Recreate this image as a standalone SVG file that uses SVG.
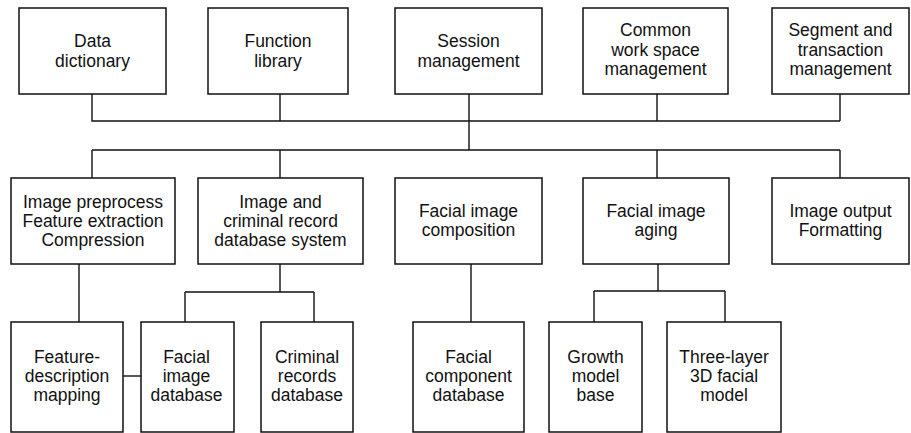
<svg xmlns="http://www.w3.org/2000/svg" width="911" height="433" viewBox="0 0 911 433">
<style>
.box{fill:#fff;stroke:#111;stroke-width:1.5}
.t{font-family:"Liberation Sans",Arial,sans-serif;font-size:17.5px;fill:#111;text-anchor:middle}
.c{fill:none;stroke:#111;stroke-width:1.4}
</style>
<rect width="911" height="433" fill="#fff"/>
<g id="connectors" class="c">
<path d="M92 94V121H840M280 94V121M469 94V150M657 94V121M840 94V121"/>
<path d="M92 150H840M92 150V178M280 150V178M657 150V178M840 150V178"/>
<path d="M79 264V322M280 264V292M185 292H314M185 292V322M314 292V322"/>
<path d="M471 264V322M658 264V291M594 291H725M594 291V322M725 291V322"/>
<path d="M123 376H141"/>
</g>
<g id="data-dictionary"><rect class="box" x="19" y="8" width="147" height="86"/><text class="t" x="92.5" y="47">Data</text><text class="t" x="92.5" y="67">dictionary</text></g>
<g id="function-library"><rect class="box" x="208" y="8" width="140" height="86"/><text class="t" x="278" y="47">Function</text><text class="t" x="278" y="67">library</text></g>
<g id="session-management"><rect class="box" x="395" y="8" width="147" height="86"/><text class="t" x="468.5" y="47">Session</text><text class="t" x="468.5" y="67">management</text></g>
<g id="common-work-space"><rect class="box" x="583" y="8" width="145" height="86"/><text class="t" x="655.5" y="36">Common</text><text class="t" x="655.5" y="55.5">work space</text><text class="t" x="655.5" y="75">management</text></g>
<g id="segment-transaction"><rect class="box" x="772" y="8" width="137" height="86"/><text class="t" x="840.5" y="36">Segment and</text><text class="t" x="840.5" y="55.5">transaction</text><text class="t" x="840.5" y="75">management</text></g>
<g id="image-preprocess"><rect class="box" x="11" y="178" width="164" height="86"/><text class="t" x="93" y="208">Image preprocess</text><text class="t" x="93" y="227">Feature extraction</text><text class="t" x="93" y="245.5">Compression</text></g>
<g id="image-criminal-db"><rect class="box" x="198" y="178" width="165" height="86"/><text class="t" x="280.5" y="208">Image and</text><text class="t" x="280.5" y="227">criminal record</text><text class="t" x="280.5" y="245.5">database system</text></g>
<g id="facial-composition"><rect class="box" x="395" y="178" width="147" height="86"/><text class="t" x="468.5" y="216.5">Facial image</text><text class="t" x="468.5" y="236">composition</text></g>
<g id="facial-aging"><rect class="box" x="583" y="178" width="146" height="86"/><text class="t" x="656" y="216.5">Facial image</text><text class="t" x="656" y="236">aging</text></g>
<g id="image-output"><rect class="box" x="772" y="178" width="137" height="86"/><text class="t" x="840.5" y="216.5">Image output</text><text class="t" x="840.5" y="236">Formatting</text></g>
<g id="feature-description"><rect class="box" x="11" y="322" width="112" height="110"/><text class="t" x="67" y="363">Feature-</text><text class="t" x="67" y="382">description</text><text class="t" x="67" y="401">mapping</text></g>
<g id="facial-image-db"><rect class="box" x="141" y="322" width="93" height="110"/><text class="t" x="186.5" y="363">Facial</text><text class="t" x="186.5" y="382">image</text><text class="t" x="186.5" y="401">database</text></g>
<g id="criminal-records-db"><rect class="box" x="261" y="322" width="92" height="110"/><text class="t" x="307" y="363">Criminal</text><text class="t" x="307" y="382">records</text><text class="t" x="307" y="401">database</text></g>
<g id="facial-component-db"><rect class="box" x="413" y="322" width="111" height="110"/><text class="t" x="468.5" y="363">Facial</text><text class="t" x="468.5" y="382">component</text><text class="t" x="468.5" y="401">database</text></g>
<g id="growth-model"><rect class="box" x="549" y="322" width="93" height="110"/><text class="t" x="595.5" y="363">Growth</text><text class="t" x="595.5" y="382">model</text><text class="t" x="595.5" y="401">base</text></g>
<g id="three-layer-model"><rect class="box" x="667" y="322" width="114" height="110"/><text class="t" x="724" y="363">Three-layer</text><text class="t" x="724" y="382">3D facial</text><text class="t" x="724" y="401">model</text></g>
</svg>
